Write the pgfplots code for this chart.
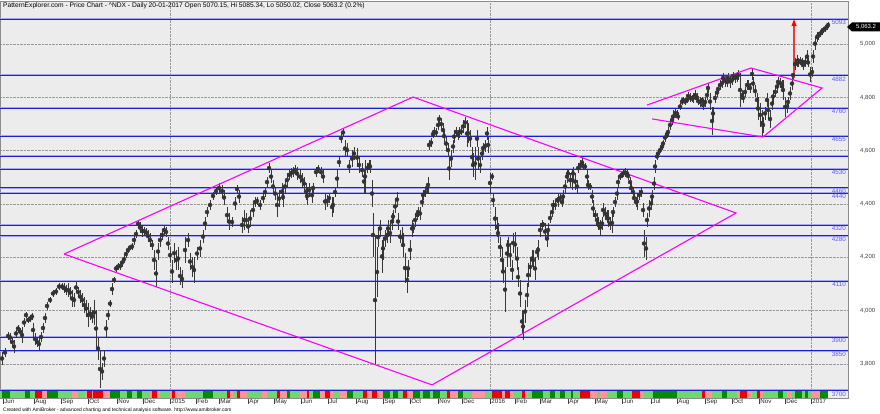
\documentclass[border=0pt]{standalone}
\usepackage{pgfplots}
\pgfplotsset{compat=1.18}
\usepackage{pgfplotstable}
\usepackage{fontspec}
\setmainfont{Liberation Sans}
\usetikzlibrary{arrows.meta}
\definecolor{bg}{RGB}{236,236,236}
\definecolor{hl}{RGB}{30,30,215}
\definecolor{hlh}{RGB}{165,165,250}
\definecolor{lbl}{RGB}{90,90,255}
\definecolor{mag}{RGB}{255,0,255}
\definecolor{dg}{RGB}{0,140,0}
\definecolor{lg}{RGB}{110,215,110}
\definecolor{pk}{RGB}{255,150,150}
\definecolor{rd}{RGB}{240,0,0}
\definecolor{arr}{RGB}{235,60,60}

\pgfplotstableread{
x hi lo
2 3844 3796
5 3859 3826
8 3919 3889
10 3916 3882
12 3901 3863
14 3889 3841
16 3927 3901
18 3946 3919
20 3934 3908
22 3938 3878
24 3972 3938
26 3994 3972
28 3976 3953
30 3983 3957
32 3991 3964
33 3953 3901
35 3916 3871
37 3901 3863
39 3897 3852
41 3919 3882
43 3953 3916
45 3991 3953
47 4032 4002
50 4051 4028
53 4077 4051
56 4084 4058
59 4103 4077
62 4103 4077
64 4103 4066
66 4096 4058
68 4103 4051
70 4088 4047
72 4077 4013
74 4066 4013
76 4107 4066
78 4088 4051
80 4077 4028
82 4066 4013
84 4051 3991
86 4039 3976
88 4028 3938
90 4013 3964
92 4002 3953
94 4039 3946
96 4002 3863
98 3901 3814
100 3852 3709
102 3803 3740
104 3852 3788
106 3964 3901
108 4002 3964
110 4039 4013
112 4103 4058
114 4126 4103
116 4171 4145
118 4178 4152
120 4182 4152
122 4197 4163
124 4208 4178
126 4227 4197
128 4238 4216
130 4246 4227
132 4253 4227
134 4283 4246
136 4302 4272
138 4340 4310
140 4332 4291
142 4321 4276
144 4313 4283
146 4310 4276
148 4302 4257
150 4291 4238
152 4265 4227
154 4227 4152
156 4190 4088
158 4253 4190
160 4291 4238
162 4302 4265
164 4321 4283
166 4313 4276
168 4276 4227
170 4238 4178
172 4190 4103
174 4253 4178
176 4227 4152
178 4238 4152
180 4163 4096
182 4152 4084
185 4276 4178
188 4291 4238
190 4216 4152
192 4201 4126
194 4201 4103
197 4238 4190
200 4265 4201
203 4302 4253
205 4351 4302
207 4388 4351
210 4415 4377
213 4445 4415
216 4463 4433
219 4478 4441
222 4471 4426
224 4452 4396
227 4388 4328
229 4366 4302
232 4351 4313
235 4426 4377
237 4471 4441
239 4452 4403
242 4351 4291
244 4377 4302
246 4366 4313
248 4340 4291
250 4377 4313
253 4403 4351
255 4426 4388
257 4426 4396
260 4415 4377
263 4441 4403
265 4463 4426
267 4501 4463
269 4553 4516
271 4527 4478
273 4490 4441
275 4463 4415
277 4441 4351
279 4452 4388
282 4478 4415
283 4463 4388
285 4490 4441
287 4516 4463
289 4527 4490
291 4535 4497
293 4538 4501
295 4546 4508
297 4538 4490
300 4527 4478
302 4516 4463
304 4501 4452
306 4478 4415
307 4463 4396
309 4478 4426
312 4463 4403
313 4478 4441
316 4538 4501
318 4546 4516
321 4538 4501
323 4527 4478
325 4441 4377
327 4433 4388
329 4441 4403
332 4426 4351
333 4426 4366
335 4463 4426
337 4527 4463
339 4576 4538
341 4666 4628
343 4685 4651
345 4640 4576
347 4628 4576
349 4565 4516
352 4602 4538
354 4613 4565
357 4610 4538
359 4576 4516
362 4553 4501
364 4527 4441
365 4565 4441
367 4553 4516
369 4565 4527
370 4565 4516
372 4490 4388
373 4366 4201
375 4283 3795
377 4238 4051
378 4313 4238
380 4340 4276
382 4265 4141
383 4276 4190
385 4302 4238
387 4313 4253
388 4340 4276
390 4328 4253
392 4366 4302
393 4377 4328
395 4415 4366
397 4445 4388
398 4366 4302
400 4302 4253
402 4313 4238
403 4291 4201
405 4216 4103
407 4163 4066
408 4190 4126
410 4265 4190
412 4340 4276
413 4328 4291
415 4366 4313
417 4377 4340
418 4388 4351
420 4388 4340
422 4426 4388
423 4452 4415
425 4463 4426
427 4478 4441
428 4501 4441
429 4640 4602
431 4647 4613
433 4677 4647
434 4689 4651
436 4685 4651
438 4715 4677
439 4734 4703
441 4722 4677
443 4703 4651
444 4677 4632
446 4651 4602
448 4628 4576
449 4576 4490
451 4602 4538
453 4640 4591
454 4677 4628
456 4689 4651
458 4677 4640
459 4689 4647
461 4685 4658
463 4715 4666
465 4726 4685
467 4715 4613
468 4703 4628
470 4677 4613
472 4613 4538
473 4591 4501
475 4613 4490
477 4677 4613
478 4613 4527
480 4576 4516
482 4613 4565
483 4628 4591
485 4640 4595
487 4689 4640
488 4651 4591
490 4516 4441
492 4516 4490
493 4441 4388
495 4388 4302
497 4351 4276
498 4328 4253
500 4276 4201
502 4238 4141
503 4190 4103
505 4163 3994
507 4265 4163
508 4276 4216
510 4253 4163
512 4190 4115
513 4291 4216
515 4295 4201
517 4238 4152
518 4163 4088
520 4115 4013
522 4002 3916
523 3991 3889
525 4039 3953
527 4103 4013
528 4178 4088
530 4201 4126
532 4227 4163
533 4227 4152
535 4201 4115
537 4238 4201
538 4265 4190
540 4328 4276
542 4340 4302
543 4332 4313
545 4328 4265
547 4302 4238
548 4328 4276
550 4366 4328
552 4388 4351
553 4415 4377
555 4415 4377
557 4426 4403
558 4441 4388
560 4441 4403
562 4426 4388
563 4452 4403
565 4490 4441
567 4527 4478
568 4527 4501
570 4516 4463
572 4527 4452
573 4538 4490
575 4516 4452
577 4490 4441
578 4553 4516
580 4565 4527
582 4576 4535
583 4557 4527
585 4553 4527
587 4527 4478
588 4490 4452
590 4478 4452
592 4452 4403
593 4415 4351
595 4377 4340
597 4366 4313
598 4351 4302
600 4340 4283
602 4351 4302
603 4403 4351
605 4388 4340
607 4377 4328
608 4377 4313
610 4351 4302
612 4366 4291
613 4388 4351
615 4426 4388
617 4463 4415
618 4501 4463
620 4516 4490
622 4520 4497
623 4527 4501
625 4535 4501
627 4527 4501
628 4520 4490
630 4501 4463
631 4478 4441
633 4463 4426
634 4441 4403
636 4426 4388
637 4441 4377
639 4452 4415
641 4463 4426
643 4403 4351
644 4302 4201
646 4276 4190
647 4366 4313
649 4415 4351
651 4426 4377
652 4452 4403
654 4501 4452
655 4565 4516
657 4591 4565
658 4602 4576
660 4613 4591
662 4628 4602
663 4640 4613
665 4666 4632
667 4677 4647
668 4689 4651
670 4715 4677
672 4734 4696
673 4752 4703
675 4760 4722
677 4752 4726
678 4741 4715
680 4779 4752
682 4797 4771
683 4801 4779
685 4797 4771
687 4801 4779
688 4820 4790
690 4816 4782
692 4809 4782
693 4816 4779
695 4827 4790
697 4816 4782
698 4801 4771
700 4801 4764
702 4801 4779
703 4790 4752
705 4801 4764
707 4827 4790
708 4854 4816
710 4816 4752
712 4764 4658
713 4764 4715
715 4816 4779
717 4835 4801
718 4846 4816
720 4865 4827
722 4872 4835
723 4891 4854
725 4884 4839
727 4876 4839
728 4891 4854
730 4884 4835
732 4884 4846
733 4895 4865
735 4891 4854
737 4895 4857
738 4902 4865
740 4891 4764
742 4827 4790
743 4816 4779
745 4839 4801
747 4865 4827
748 4865 4827
750 4854 4816
752 4910 4865
753 4876 4827
755 4846 4801
757 4816 4764
758 4801 4715
760 4779 4689
762 4752 4655
763 4726 4666
765 4764 4715
767 4816 4764
768 4790 4715
770 4752 4685
772 4801 4752
773 4827 4779
775 4839 4801
777 4865 4816
778 4876 4839
780 4872 4835
782 4865 4820
783 4865 4790
785 4801 4726
787 4790 4741
788 4801 4764
790 4839 4790
792 4876 4827
793 4902 4865
795 4947 4902
797 4959 4914
798 4947 4914
800 4951 4921
802 4947 4914
803 4940 4902
805 4951 4914
807 4977 4929
808 4947 4914
810 4914 4857
812 4914 4876
813 4977 4929
815 5026 4977
817 5045 5007
818 5045 5015
820 5052 5026
822 5060 5034
823 5064 5041
825 5071 5045
827 5079 5052
828 5082 5060
}\bars

\begin{document}
\begin{tikzpicture}[x=1bp,y=1bp]
\useasboundingbox (0,-15) rectangle (880,398);
\begin{axis}[
  at={(0,0)}, anchor=south west,
  scale only axis, width=848bp, height=397bp,
  xmin=0, xmax=848, ymin=3671.8, ymax=5161.4,
  axis background/.style={fill=bg},
  axis line style={black!45, line width=0.6bp},
  clip=true,
  xtick={3,34,61,88,117,143,170,196,219,248,274,301,328,356,383,410,438,462,490,515,540,568,595,622,651,677,705,732,759,785,811},
  xticklabels={Jun,Aug,Sep,Oct,Nov,Dec,2015,Feb,Mar,Apr,May,Jun,Jul,Aug,Sep,Oct,Nov,Dec,2016,Feb,Mar,Apr,May,Jun,Jul,Aug,Sep,Oct,Nov,Dec,2017},
  xtick pos=lower,
  tick align=outside,
  major tick length=6bp,
  x tick style={black!75, line width=0.5bp},
  xticklabel style={anchor=north west, font=\fontsize{6.2}{7}\selectfont, inner sep=0pt, xshift=1.2bp, yshift=5bp, text=black!85},
  ytick={3800,4000,4200,4400,4600,4800,5000},
  ymajorgrids, major grid style={densely dotted, black!40, line width=0.5bp},
  yticklabel pos=right,
  y tick style={draw=none},
  yticklabel style={anchor=west, font=\fontsize{6}{7}\selectfont, inner sep=0pt, xshift=6bp, text=black!75},
  /pgf/number format/.cd, 1000 sep={,}, assume math mode=true,
  /pgfplots/.cd,
  extra x ticks={170,490,811},
  extra x tick labels={},
  extra x tick style={xmajorgrids=true, major tick length=0pt, tick style={draw=none}},
]
% color strip
\addplot[lg, line width=7.5bp, forget plot] coordinates {(0,3686) (828,3686)};
\addplot[dg, line width=7.5bp, unbounded coords=jump, forget plot] coordinates {
(2,3686)(10,3686)(10,nan) (25,3686)(30,3686)(30,nan) (47,3686)(58,3686)(58,nan)
(110,3686)(120,3686)(120,nan) (127,3686)(132,3686)(132,nan) (137,3686)(142,3686)(142,nan)
(203,3686)(213,3686)(213,nan) (287,3686)(290,3686)(290,nan) (313,3686)(320,3686)(320,nan)
(347,3686)(353,3686)(353,nan) (383,3686)(390,3686)(390,nan) (393,3686)(398,3686)(398,nan)
(413,3686)(420,3686)(420,nan) (423,3686)(430,3686)(430,nan) (433,3686)(440,3686)(440,nan)
(458,3686)(463,3686)(463,nan) (532,3686)(543,3686)(543,nan) (550,3686)(555,3686)(555,nan)
(560,3686)(565,3686)(565,nan) (571,3686)(573,3686)(573,nan) (617,3686)(623,3686)(623,nan)
(653,3686)(677,3686)(677,nan) (722,3686)(727,3686)(727,nan) (778,3686)(783,3686)(783,nan)
(795,3686)(802,3686)(802,nan) (805,3686)(808,3686)(808,nan) (820,3686)(828,3686)};
\addplot[rd, line width=7.5bp, unbounded coords=jump, forget plot] coordinates {
(35,3686)(42,3686)(42,nan) (87,3686)(92,3686)(92,nan) (93,3686)(103,3686)(103,nan)
(152,3686)(157,3686)(157,nan) (172,3686)(175,3686)(175,nan) (227,3686)(230,3686)(230,nan)
(237,3686)(240,3686)(240,nan) (277,3686)(280,3686)(280,nan) (307,3686)(309,3686)(309,nan)
(325,3686)(330,3686)(330,nan) (363,3686)(367,3686)(367,nan) (372,3686)(377,3686)(377,nan)
(403,3686)(407,3686)(407,nan) (447,3686)(450,3686)(450,nan) (492,3686)(502,3686)(502,nan)
(505,3686)(510,3686)(510,nan) (522,3686)(525,3686)(525,nan) (580,3686)(590,3686)(590,nan)
(632,3686)(640,3686)(640,nan) (702,3686)(705,3686)(705,nan) (740,3686)(747,3686)(747,nan)
(757,3686)(760,3686)};
\addplot[pk, line width=7.5bp, unbounded coords=jump, forget plot] coordinates {
(42,3686)(47,3686)(47,nan) (72,3686)(78,3686)(78,nan) (85,3686)(87,3686)(87,nan)
(92,3686)(93,3686)(93,nan) (103,3686)(110,3686)(110,nan) (150,3686)(152,3686)(152,nan)
(157,3686)(160,3686)(160,nan) (170,3686)(172,3686)(172,nan) (175,3686)(185,3686)(185,nan)
(230,3686)(233,3686)(233,nan) (240,3686)(247,3686)(247,nan) (262,3686)(267,3686)(267,nan)
(280,3686)(287,3686)(287,nan) (300,3686)(307,3686)(307,nan) (320,3686)(325,3686)(325,nan)
(330,3686)(333,3686)(333,nan) (340,3686)(347,3686)(347,nan) (367,3686)(372,3686)(372,nan)
(377,3686)(383,3686)(383,nan) (407,3686)(413,3686)(413,nan) (450,3686)(458,3686)(458,nan)
(472,3686)(485,3686)(485,nan) (502,3686)(505,3686)(505,nan) (510,3686)(513,3686)(513,nan)
(525,3686)(528,3686)(528,nan) (590,3686)(597,3686)(597,nan) (600,3686)(607,3686)(607,nan)
(640,3686)(643,3686)(643,nan) (705,3686)(712,3686)(712,nan) (737,3686)(740,3686)(740,nan)
(747,3686)(752,3686)(752,nan) (760,3686)(763,3686)(763,nan) (787,3686)(792,3686)(792,nan)
(812,3686)(820,3686)};
% horizontal levels
\foreach \v in {5093,4882,4760,4655,4580,4530,4460,4440,4320,4280,4110,3900,3850,3700}{
  \edef\tmp{\noexpand\addplot[hlh, line width=2bp, forget plot] coordinates {(0,\v) (848,\v)};
  \noexpand\addplot[hl, line width=0.9bp, forget plot] coordinates {(0,\v) (848,\v)};}
  \tmp
}
% price bars
\addplot[black!80, only marks, mark=none, forget plot,
  error bars/.cd, y dir=both, y explicit, error mark=none,
  error bar style={black!78, line width=0.9bp}]
  table[x=x, y expr={(\thisrow{hi}+\thisrow{lo})/2}, y error expr={(\thisrow{hi}-\thisrow{lo})/2}] {\bars};
% pattern lines
\addplot[mag, line width=1.1bp, forget plot] coordinates {(64,4212) (413,4801) (736,4366) (432,3721) (64,4212)};
\addplot[mag, line width=1.1bp, forget plot] coordinates {(647,4771) (751,4910) (822,4835) (763,4651) (652,4719)};
% target arrow
\addplot[arr, line width=1.2bp, -{Triangle[length=7bp,width=5bp,color=red]}, forget plot] coordinates {(794,4872) (794,5093)};
% level labels
\foreach \v in {5093,4882,4760,4655,4530,4460,4440,4320,4280,4110,3900,3850,3700}{
  \edef\tmp{\noexpand\node[anchor=north east, inner sep=0pt, text=lbl, font=\noexpand\fontsize{6.3}{7}\noexpand\selectfont] at (axis cs:846,\v-4) {\v};}
  \tmp
}
\end{axis}
% title
\node[anchor=north west, inner sep=0pt, font=\fontsize{6.7}{8}\selectfont] at (3,396) {PatternExplorer.com - Price Chart - \textasciicircum NDX - Daily 20-01-2017 Open 5070.15, Hi 5085.34, Lo 5050.02, Close 5063.2 (0.2\%)};
% credits
\node[anchor=north west, inner sep=0pt, font=\fontsize{5}{6}\selectfont] at (3,-9.5) {Created with AmiBroker - advanced charting and technical analysis software. http://www.amibroker.com};
% current price tag
\fill[black] (847,371) -- (852,375.5) -- (880,375.5) -- (880,366.5) -- (852,366.5) -- cycle;
\node[text=white, inner sep=0pt, font=\fontsize{6}{7}\selectfont] at (866,371) {5,063.2};
\end{tikzpicture}
\end{document}
